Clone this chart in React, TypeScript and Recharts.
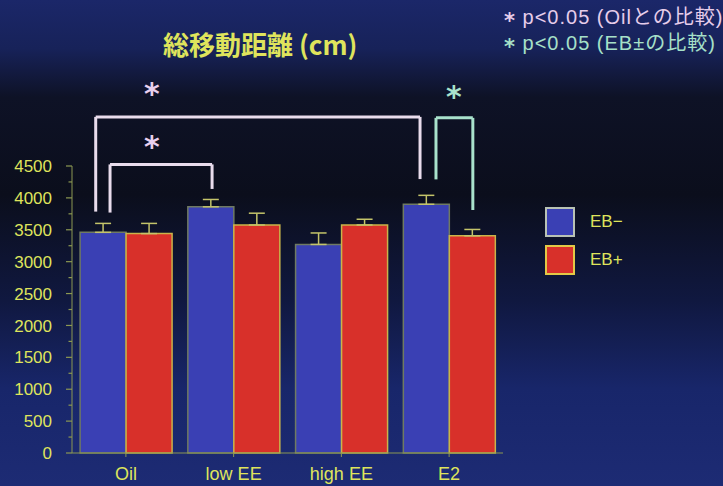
import { BarChart, Bar, XAxis, YAxis, ErrorBar, ReferenceLine, ReferenceDot } from 'recharts'

const categories = ['Oil', 'low EE', 'high EE', 'E2']
const ebMinus = [3460, 3860, 3270, 3900]
const ebPlus = [3440, 3575, 3575, 3405]
const ebMinusErr = [140, 115, 180, 140]
const ebPlusErr = [160, 185, 90, 100]
const yTicks = [0, 250, 500, 750, 1000, 1250, 1500, 1750, 2000, 2250, 2500, 2750, 3000, 3250, 3500, 3750, 4000, 4250, 4500]
const seriesNames = ['EB−', 'EB+']
const noteLines = [
  { text: 'p<0.05 (Oilとの比較)', color: '#e6cdea' },
  { text: 'p<0.05 (EB±の比較)', color: '#a6e0c8' },
]

// significance brackets: x in category units (0..4), y in cm
const brackets = [
  { x1: 0.22, x2: 3.23, top: 5270, y1: 3785, y2: 4295, color: '#e9dcec' },
  { x1: 0.353, x2: 1.3, top: 4525, y1: 3770, y2: 4140, color: '#e9dcec' },
  { x1: 3.378, x2: 3.72, top: 5255, y1: 4290, y2: 3810, color: '#a9e2cc' },
]
const stars = [
  { x: 0.742, y: 5690, color: '#e9d0ee' },
  { x: 0.742, y: 4860, color: '#e9d0ee' },
  { x: 3.545, y: 5630, color: '#a9e2cc' },
]

const data = categories.map((c, i) => ({
  name: c,
  minus: ebMinus[i],
  plus: ebPlus[i],
  minusErr: [0, ebMinusErr[i]],
  plusErr: [0, ebPlusErr[i]],
}))

// the hidden numeric axis spans the data index range (0..n-1) over the plot width
const toAxis = (c: number) => (c * (categories.length - 1)) / categories.length

const yellow = '#dfe45c'
const axisColor = '#8c9852'
const font = '"Liberation Sans", Arial, "Noto Sans CJK JP", sans-serif'

function YTick(props: any) {
  const { x, y, payload } = props
  const major = payload.value % 500 === 0
  return (
    <g>
      <line x1={x - (major ? 6 : 3.5)} x2={x} y1={y} y2={y} stroke={axisColor} strokeWidth={1.2} />
      {major && (
        <text x={x - 20} y={y} dy="0.36em" textAnchor="end" fill={yellow} fontSize={17} fontFamily={font}>
          {payload.value}
        </text>
      )}
    </g>
  )
}

function Star(props: any) {
  return (
    <text x={props.cx} y={props.cy} dy="0.45em" textAnchor="middle" fill={props.fill} fontSize={30} fontWeight="bold" fontFamily="DejaVu Sans">
      *
    </text>
  )
}

export default function App() {
  return (
    <div
      style={{
        position: 'absolute',
        left: 0,
        top: 0,
        width: 723,
        height: 486,
        overflow: 'hidden',
        fontFamily: font,
        background:
          'linear-gradient(180deg, #1b2769 0%, #172259 10%, #0e1226 20%, #0b0e1c 40%, #101840 62%, #18266a 80%, #1d2b74 100%)',
      }}
    >
      <div style={{ position: 'absolute', left: 163, top: 25, color: yellow, fontSize: 26, fontWeight: 'bold', fontFamily: '"Noto Sans CJK JP", sans-serif', whiteSpace: 'nowrap' }}>
        総移動距離 (cm)
      </div>
      <div style={{ position: 'absolute', left: 504, top: 4, fontSize: 20, lineHeight: '26px', letterSpacing: 1, whiteSpace: 'nowrap' }}>
        {noteLines.map((l) => (
          <div key={l.text} style={{ color: l.color }}>
            <span style={{ fontFamily: 'DejaVu Sans', fontWeight: 'bold', fontSize: 21, position: 'relative', top: 4 }}>*</span> {l.text}
          </div>
        ))}
      </div>
      {seriesNames.map((n, i) => (
        <div key={n} style={{ position: 'absolute', left: 545, top: 207 + i * 38, display: 'flex', alignItems: 'center' }}>
          <div
            style={{
              width: 26,
              height: 26,
              background: i === 0 ? '#3a40b4' : '#d8302a',
              border: `2px solid ${i === 0 ? '#b9c2b4' : '#e2c846'}`,
            }}
          />
          <span style={{ marginLeft: 15, color: yellow, fontSize: 17 }}>{n}</span>
        </div>
      ))}
      <BarChart
        width={723}
        height={486}
        data={data}
        margin={{ top: 166, right: 220, bottom: 3, left: 0 }}
        barCategoryGap="7.5%"
        barGap={0}
        style={{ position: 'absolute', left: 0, top: 0 }}
      >
        <XAxis
          dataKey="name"
          height={30}
          stroke={axisColor}
          tickSize={4}
          tickMargin={10}
          tick={{ fill: yellow, fontSize: 18, fontFamily: font }}
        />
        <XAxis xAxisId="n" type="number" domain={[0, 4]} allowDataOverflow hide />
        <YAxis
          width={72}
          domain={[0, 4500]}
          ticks={yTicks}
          interval={0}
          stroke={axisColor}
          tickSize={0}
          tickMargin={0}
          tick={<YTick />}
        />
        <Bar dataKey="minus" fill="#3a40b4" stroke="#6f7a62" strokeWidth={1.5} isAnimationActive={false}>
          <ErrorBar dataKey="minusErr" width={8} stroke="#c4c46a" strokeWidth={1.5} direction="y" />
        </Bar>
        <Bar dataKey="plus" fill="#d8302a" stroke="#c9b44a" strokeWidth={1.5} isAnimationActive={false}>
          <ErrorBar dataKey="plusErr" width={8} stroke="#c4c46a" strokeWidth={1.5} direction="y" />
        </Bar>
        {brackets.flatMap((b, i) => [
          <ReferenceLine key={`l${i}`} xAxisId="n" ifOverflow="visible" stroke={b.color} strokeWidth={3}
            segment={[{ x: toAxis(b.x1), y: b.y1 }, { x: toAxis(b.x1), y: b.top }]} />,
          <ReferenceLine key={`t${i}`} xAxisId="n" ifOverflow="visible" stroke={b.color} strokeWidth={3}
            segment={[{ x: toAxis(b.x1), y: b.top }, { x: toAxis(b.x2), y: b.top }]} />,
          <ReferenceLine key={`r${i}`} xAxisId="n" ifOverflow="visible" stroke={b.color} strokeWidth={3}
            segment={[{ x: toAxis(b.x2), y: b.top }, { x: toAxis(b.x2), y: b.y2 }]} />,
        ])}
        {stars.map((s, i) => (
          <ReferenceDot key={`s${i}`} xAxisId="n" x={toAxis(s.x)} y={s.y} r={0} fill={s.color} ifOverflow="visible" shape={<Star />} />
        ))}
      </BarChart>
    </div>
  )
}
